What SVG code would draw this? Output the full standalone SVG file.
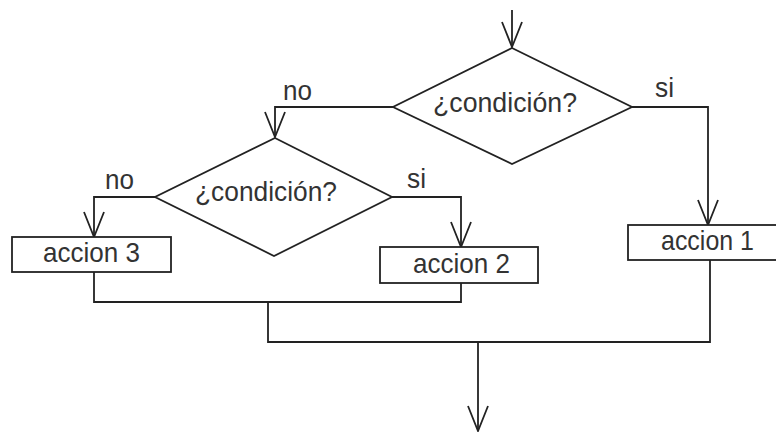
<svg xmlns="http://www.w3.org/2000/svg" width="776" height="432" viewBox="0 0 776 432">
<defs>
<style>
.shape{fill:#fff;stroke:#222;stroke-width:1.8}
.edge{fill:none;stroke:#222;stroke-width:1.8}
text{font-family:"Liberation Sans",Arial,sans-serif;font-size:28px;fill:#333}
</style>
<marker id="v" markerUnits="userSpaceOnUse" viewBox="-28 -13 30 26" refX="0" refY="0" markerWidth="30" markerHeight="26" orient="auto">
<path d="M-25,-10 L0,0 L-25,10" fill="none" stroke="#222" stroke-width="1.8"/>
</marker>
</defs>
<rect width="776" height="432" fill="#fff"/>
<g id="connectors">
<path class="edge" d="M512,10 V47" marker-end="url(#v)"/>
<path class="edge" d="M393,107 H275 V137" marker-end="url(#v)"/>
<path class="edge" d="M632,107 H708 V225" marker-end="url(#v)"/>
<path class="edge" d="M155,197 H94 V237" marker-end="url(#v)"/>
<path class="edge" d="M392,197 H461 V247" marker-end="url(#v)"/>
<path class="edge" d="M94,272 V302 H461 V283"/>
<path class="edge" d="M268,302 V342 H710 V260"/>
<path class="edge" d="M478,342 V431" marker-end="url(#v)"/>
<text x="283" y="100" textLength="29" lengthAdjust="spacingAndGlyphs">no</text>
<text x="655" y="97" textLength="19" lengthAdjust="spacingAndGlyphs">si</text>
<text x="105" y="189" textLength="29" lengthAdjust="spacingAndGlyphs">no</text>
<text x="407" y="188" textLength="19" lengthAdjust="spacingAndGlyphs">si</text>
</g>
<g id="cond1">
<polygon class="shape" points="512,48 632,107 512,164 393,107"/>
<text x="433" y="112" textLength="144" lengthAdjust="spacingAndGlyphs">¿condición?</text>
</g>
<g id="cond2">
<polygon class="shape" points="275,138 392,197 274,256 155,197"/>
<text x="195" y="201" textLength="142" lengthAdjust="spacingAndGlyphs">¿condición?</text>
</g>
<g id="accion3">
<rect class="shape" x="12" y="237" width="159" height="35"/>
<text x="43" y="262" textLength="97" lengthAdjust="spacingAndGlyphs">accion 3</text>
</g>
<g id="accion2">
<rect class="shape" x="380" y="247" width="158" height="36"/>
<text x="413" y="273" textLength="97" lengthAdjust="spacingAndGlyphs">accion 2</text>
</g>
<g id="accion1">
<rect class="shape" x="628" y="225" width="160" height="35"/>
<text x="661" y="250" textLength="93" lengthAdjust="spacingAndGlyphs">accion 1</text>
</g>
</svg>
